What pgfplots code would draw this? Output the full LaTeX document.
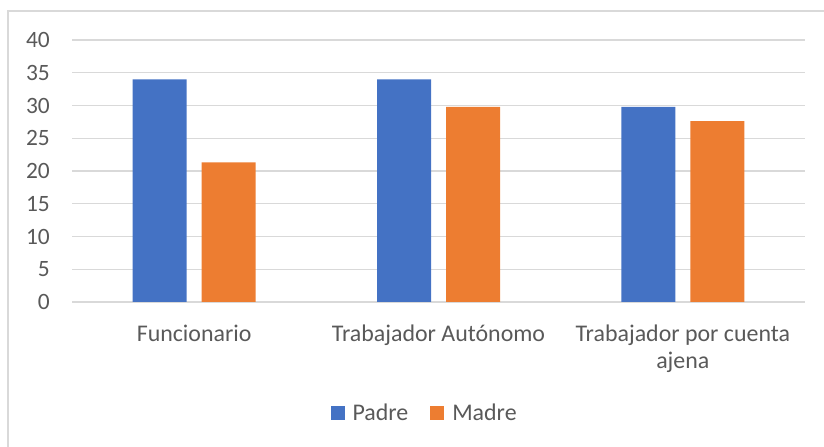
\documentclass[border=0pt]{standalone}
\usepackage{fontspec}
\setmainfont{Carlito}
\usepackage{pgfplots}
\pgfplotsset{compat=1.18}
\definecolor{padre}{HTML}{4472C4}
\definecolor{madre}{HTML}{ED7D31}
\definecolor{textgray}{HTML}{595959}
\definecolor{gridgray}{HTML}{D9D9D9}
\begin{document}
\begin{tikzpicture}
\useasboundingbox (0,0) rectangle (824bp,447bp);
\draw[line width=1.3bp, gridgray] (8bp,0) -- (8bp,436bp) -- (824bp,436bp);
\begin{axis}[
  at={(72bp,145bp)}, anchor=south west,
  scale only axis, width=733bp, height=262bp,
  ybar=15bp, bar width=54bp,
  xmin=-0.5, xmax=2.5, ymin=0, ymax=40,
  xtick={0,1,2},
  xticklabels={Funcionario, Trabajador Autónomo, {Trabajador por cuenta\\ajena}},
  ytick={0,5,...,40},
  ymajorgrids, grid style={line width=1.3bp, gridgray},
  axis line style={draw=none},
  major tick length=0pt,
  /pgf/number format/assume math mode=true,
  tick label style={font=\fontsize{23.5}{27}\selectfont, text=textgray},
  yticklabel style={anchor=east, inner sep=0pt, xshift=-22bp},
  xticklabel style={font=\fontsize{24}{27}\selectfont, anchor=north, align=center, inner sep=0pt, yshift=-23bp},
  legend image code/.code={\fill[#1, draw=none] (0bp,-7bp) rectangle (14bp,7bp);},
  legend style={at={(0.481,-0.424)}, anchor=center, draw=none, fill=none,
    legend columns=2, font=\fontsize{24}{27}\selectfont, text=textgray,
    /tikz/every odd column/.append style={column sep=6bp},
    /tikz/every even column/.append style={column sep=20bp}},
]
\addplot[fill=padre, draw=none] coordinates {(0,34.0) (1,34.0) (2,29.8)};
\addplot[fill=madre, draw=none] coordinates {(0,21.3) (1,29.8) (2,27.6)};
\legend{Padre, Madre}
\end{axis}
\end{tikzpicture}
\end{document}
